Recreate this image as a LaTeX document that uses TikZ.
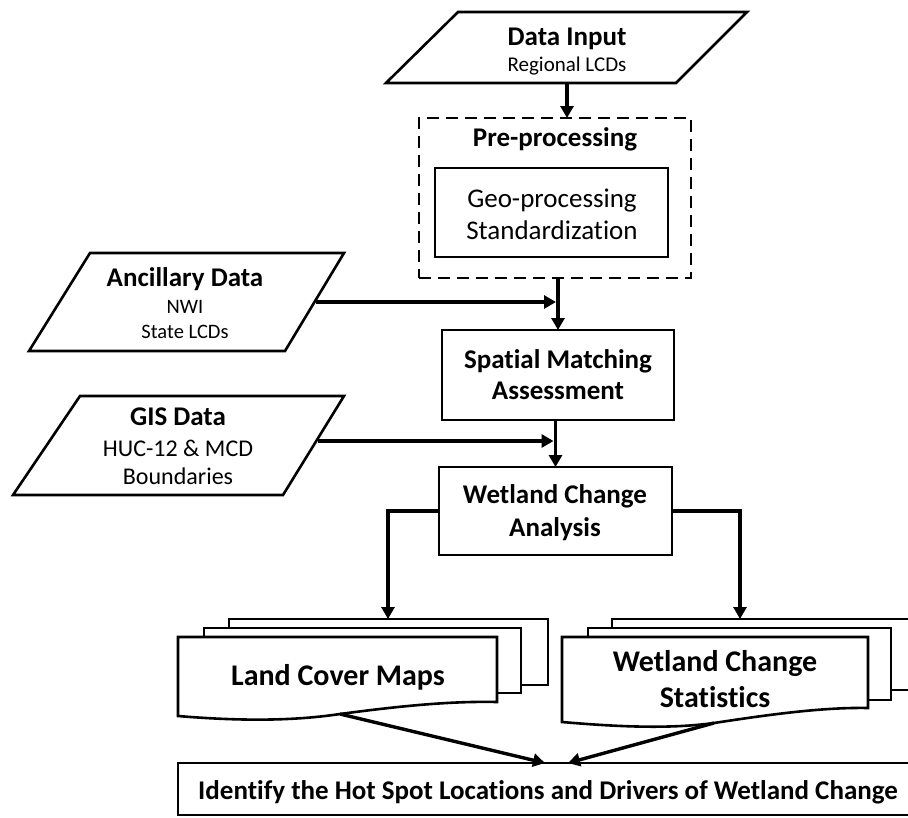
\documentclass[tikz,border=0pt]{standalone}
\usepackage{fontspec}
\setmainfont{Carlito}[Ligatures={NoCommon}]
\usetikzlibrary{arrows.meta}
\begin{document}
\begin{tikzpicture}[x=1pt,y=-1pt,
  outline/.style={draw=black,line width=2.6pt},
  box/.style={draw=black,line width=2.6pt,rectangle,inner sep=0pt,outer sep=0pt},
  flow/.style={draw=black,line width=3.4pt,-{Triangle[length=12pt,width=13pt]}},
  lbl/.style={anchor=base,inner sep=0pt},
  ttl/.style={lbl,font=\fontsize{27}{31}\selectfont\bfseries},
  big/.style={lbl,font=\fontsize{30}{34}\selectfont\bfseries},
]
\useasboundingbox (0,0) rectangle (908,817);

% --- input parallelograms ---
\draw[outline] (458,12) -- (747,12) -- (676,83) -- (386,83) -- cycle;
\node[ttl] (dinT) at (567,45) {Data Input};
\node[lbl,font=\fontsize{21}{25}\selectfont] (dinS) at (567,71) {Regional LCDs};
\coordinate (dinB) at (567,83);

\draw[outline] (90,253) -- (344,253) -- (285,351) -- (29,351) -- cycle;
\node[ttl] (ancT) at (185,286) {Ancillary Data};
\node[lbl,font=\fontsize{20.5}{24}\selectfont] (ancA) at (185,313) {NWI};
\node[lbl,font=\fontsize{20.5}{24}\selectfont] (ancB) at (185,338) {State LCDs};
\coordinate (ancR) at (316,302);

\draw[outline] (80,396) -- (344,396) -- (283,495) -- (13,495) -- cycle;
\node[ttl] (gisT) at (178,425) {GIS Data};
\node[lbl,font=\fontsize{24}{28}\selectfont] (gisA) at (178,456) {HUC-12 \& MCD};
\node[lbl,font=\fontsize{24}{28}\selectfont] (gisB) at (178,484) {Boundaries};
\coordinate (gisR) at (318,441);

% --- pre-processing group ---
\node[box,dashed,dash pattern=on 12pt off 7pt,minimum width=272pt,minimum height=160pt] (pre) at (555,198) {};
\node[ttl] (preT) at (555,146) {Pre-processing};
\node[box,minimum width=233pt,minimum height=89pt] (geo) at (551.5,212.5) {};
\node[lbl,font=\fontsize{27}{31}\selectfont] (geoA) at (552,207) {Geo-processing};
\node[lbl,font=\fontsize{27}{31}\selectfont] (geoB) at (552,239) {Standardization};

% --- processing steps ---
\node[box,minimum width=232pt,minimum height=90pt] (spat) at (558,375) {};
\node[ttl] (spatA) at (558,368) {Spatial Matching};
\node[ttl] (spatB) at (558,399) {Assessment};

\node[box,minimum width=233pt,minimum height=88pt] (wca) at (555.5,511) {};
\node[ttl] (wcaA) at (555,503) {Wetland Change};
\node[ttl] (wcaB) at (555,536) {Analysis};

% --- output document stacks ---
\draw[outline,fill=white] (229,619) rectangle (548,685);
\draw[outline,fill=white] (204,628) rectangle (521,693);
\draw[outline,fill=white] (178,637) -- (497,637) -- (497,702)
  .. controls (450,701) and (400,706) .. (340,714)
  .. controls (300,720) and (250,722) .. (178,716) -- cycle;
\node[big] (lcm) at (338,685) {Land Cover Maps};
\coordinate (lcTop) at (388,619);
\coordinate (lcB) at (340,714);

\draw[outline,fill=white] (612,619) rectangle (916,690);
\draw[outline,fill=white] (588,628) rectangle (891,700);
\draw[outline,fill=white] (562,637) -- (868,637) -- (868,708)
  .. controls (820,707) and (760,716) .. (714,723)
  .. controls (670,729) and (620,727) .. (562,722) -- cycle;
\node[big] (wcsA) at (715,671) {Wetland Change};
\node[big] (wcsB) at (715,707) {Statistics};
\coordinate (wcsTop) at (740,619);
\coordinate (wcsB2) at (714,723);

% --- final step ---
\draw[outline] (918,763) -- (178,763) -- (178,815) -- (918,815);
\node[lbl,font=\fontsize{27}{31}\selectfont\bfseries] (hot) at (548,799)
  {Identify the Hot Spot Locations and Drivers of Wetland Change};
\coordinate (hotL) at (545,763);
\coordinate (hotR) at (568,763);

% --- connectors ---
\draw[flow] (dinB) -- (dinB |- pre.north);
\draw[flow] (pre.south -| spat.north) -- (spat.north);
\draw[flow] (ancR) -- ([xshift=-2pt]ancR -| spat.north);
\draw[flow] (spat.south -| wca.north) -- (wca.north);
\draw[flow] (gisR) -- ([xshift=-2pt]gisR -| wca.north);
\draw[flow] (wca.west) -| (lcTop);
\draw[flow] (wca.east) -| (wcsTop);
\draw[flow] (lcB) -- (hotL);
\draw[flow] (wcsB2) -- (hotR);
\end{tikzpicture}
\end{document}
